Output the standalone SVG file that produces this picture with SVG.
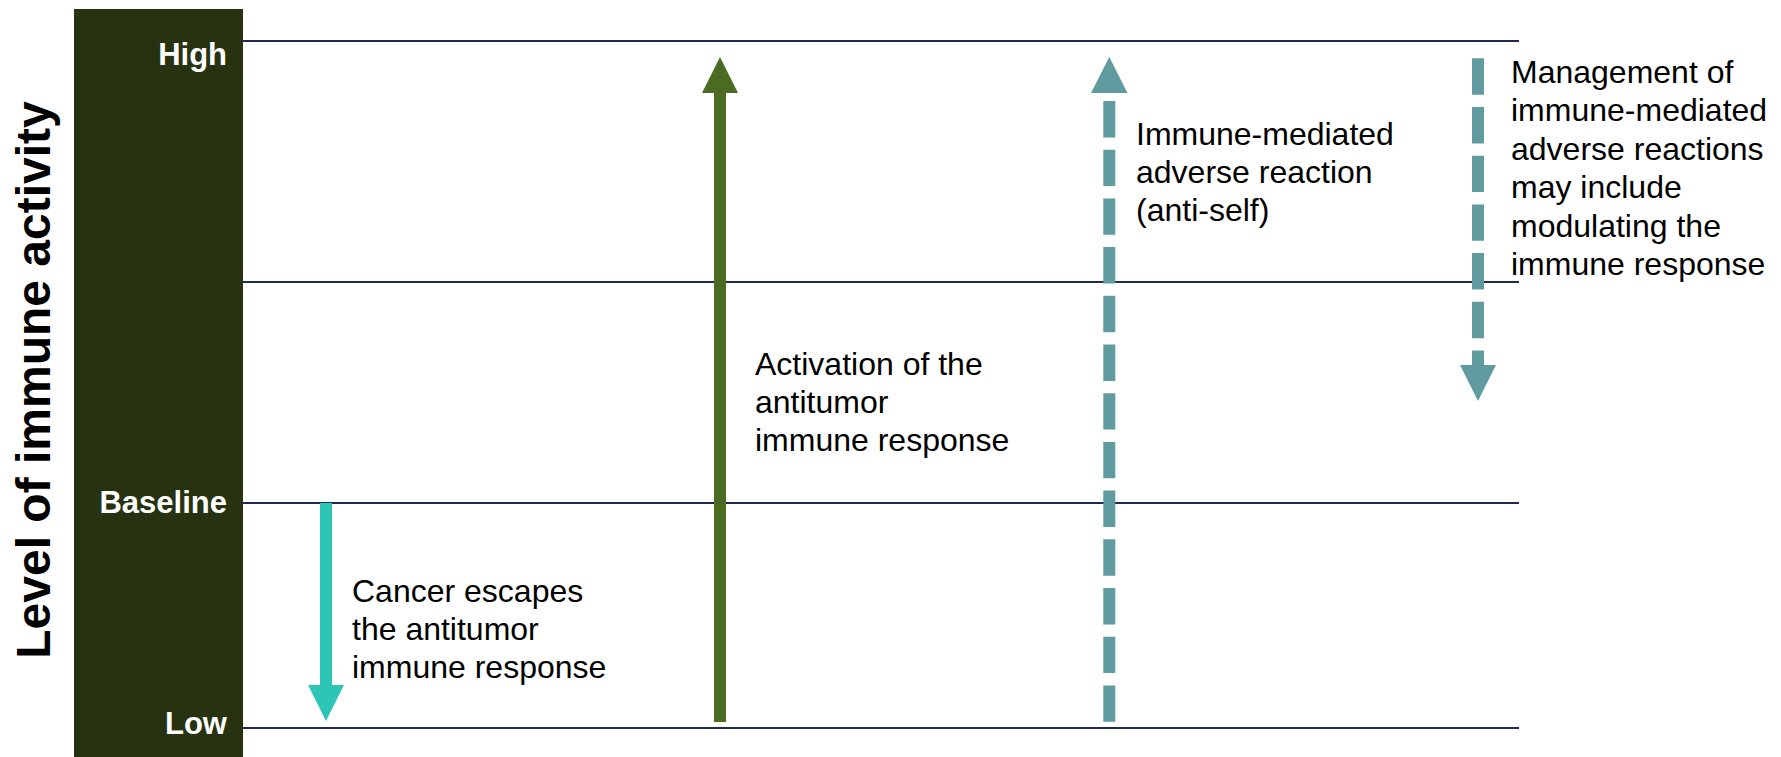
<svg xmlns="http://www.w3.org/2000/svg" width="1781" height="757" viewBox="0 0 1781 757">
<style>
.lbl{font-family:"Liberation Sans",Arial,sans-serif;font-size:31px;font-weight:bold;fill:#ffffff;text-anchor:end}
.body{font-family:"Liberation Sans",Arial,sans-serif;font-size:32px;fill:#000000}
.axis{font-family:"Liberation Sans",Arial,sans-serif;font-size:48px;font-weight:bold;fill:#000000;text-anchor:middle}
.grid{stroke:#1d2b4f;stroke-width:2}
.dash{stroke:#609b9f;stroke-width:12;stroke-dasharray:36.4 12.3;fill:none}
</style>
<g id="axis-bar">
<rect x="74" y="9" width="169" height="748" fill="#263210"/>
<text class="lbl" x="227" y="65">High</text>
<text class="lbl" x="227" y="513">Baseline</text>
<text class="lbl" x="227" y="734">Low</text>
</g>
<g id="axis-title">
<text class="axis" transform="translate(50,380) rotate(-90)">Level of immune activity</text>
</g>
<g id="gridlines">
<line class="grid" x1="243" y1="41" x2="1519" y2="41"/>
<line class="grid" x1="243" y1="282" x2="1519" y2="282"/>
<line class="grid" x1="243" y1="503" x2="1519" y2="503"/>
<line class="grid" x1="243" y1="728" x2="1519" y2="728"/>
</g>
<g id="connectors">
<g id="arrow-cancer-escape">
<rect x="320" y="503" width="12" height="183" fill="#2dc5b5"/>
<polygon points="308,685 344,685 326,721" fill="#2dc5b5"/>
</g>
<g id="arrow-activation">
<rect x="714" y="92" width="12" height="630" fill="#4b6b22"/>
<polygon points="702,93 738,93 720,57" fill="#4b6b22"/>
</g>
<g id="arrow-adverse">
<line class="dash" x1="1109.3" y1="101" x2="1109.3" y2="722"/>
<polygon points="1091,93 1127.5,93 1109.3,57" fill="#609b9f"/>
</g>
<g id="arrow-management">
<line class="dash" x1="1478" y1="58.3" x2="1478" y2="366"/>
<polygon points="1460,365 1496,365 1478,401" fill="#609b9f"/>
</g>
</g>
<g id="label-cancer">
<text class="body" x="352"><tspan x="352" y="602">Cancer escapes</tspan><tspan x="352" y="640">the antitumor</tspan><tspan x="352" y="678">immune response</tspan></text>
</g>
<g id="label-activation">
<text class="body" x="755"><tspan x="755" y="375">Activation of the</tspan><tspan x="755" y="413">antitumor</tspan><tspan x="755" y="451">immune response</tspan></text>
</g>
<g id="label-adverse">
<text class="body" x="1136"><tspan x="1136" y="145">Immune-mediated</tspan><tspan x="1136" y="183">adverse reaction</tspan><tspan x="1136" y="221">(anti-self)</tspan></text>
</g>
<g id="label-management">
<text class="body" x="1511"><tspan x="1511" y="83">Management of</tspan><tspan x="1511" y="121.4">immune-mediated</tspan><tspan x="1511" y="159.8">adverse reactions</tspan><tspan x="1511" y="198.2">may include</tspan><tspan x="1511" y="236.6">modulating the</tspan><tspan x="1511" y="275">immune response</tspan></text>
</g>
</svg>
